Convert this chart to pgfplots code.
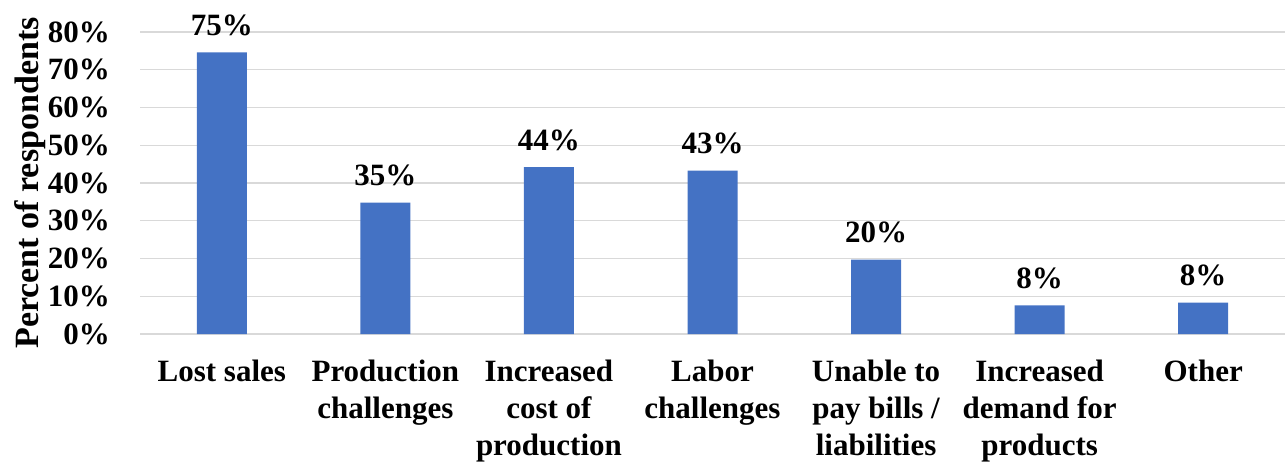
\documentclass[border=0pt]{standalone}
\usepackage{pgfplots}
\pgfplotsset{compat=1.18}
\usepackage{fontspec}
\setmainfont{Liberation Serif}
\definecolor{barblue}{HTML}{4472C4}
\definecolor{gridgray}{HTML}{D9D9D9}
\begin{document}
\begin{tikzpicture}
\begin{axis}[
  scale only axis,
  width=1145pt, height=302pt,
  ymin=0, ymax=80,
  xmin=-0.5, xmax=6.5,
  ytick={0,10,...,80},
  yticklabel={\pgfmathprintnumber{\tick}\%},
  /pgf/number format/assume math mode=true,
  xtick=data,
  xticklabels={Lost sales, Production\\challenges, Increased\\cost of\\production, Labor\\challenges, Unable to\\pay bills /\\liabilities, Increased\\demand for\\products, Other},
  major tick length=0pt,
  ymajorgrids,
  grid style={draw=gridgray, line width=1.3pt},
  axis line style={draw=none},
  tick label style={font=\fontsize{31}{37}\selectfont\bfseries, text=black},
  yticklabel style={anchor=east, inner sep=0pt, xshift=-30pt},
  xticklabel style={align=center, anchor=north, inner sep=0pt, yshift=-26pt},
  ylabel={Percent of respondents},
  every axis y label/.style={at={(rel axis cs:0,0.5)}, xshift=-110pt, rotate=90, anchor=center, font=\fontsize{34}{40}\selectfont\bfseries},
  ybar, bar width=50pt,
  nodes near coords={\pgfmathprintnumber[fixed,precision=0]{\pgfplotspointmeta}\%},
  every node near coord/.append style={font=\fontsize{31}{37}\selectfont\bfseries, anchor=south, yshift=13pt},
  clip=false,
]
\addplot[fill=barblue, draw=none] coordinates {(0,74.6) (1,34.8) (2,44.2) (3,43.3) (4,19.7) (5,7.6) (6,8.3)};
\coordinate (sw) at (rel axis cs:0,0);
\coordinate (ne) at (rel axis cs:1,1);
\end{axis}
\pgfresetboundingbox
\path ([xshift=-140pt,yshift=-128pt]sw) rectangle ([xshift=3pt,yshift=32pt]ne);
\end{tikzpicture}
\end{document}
